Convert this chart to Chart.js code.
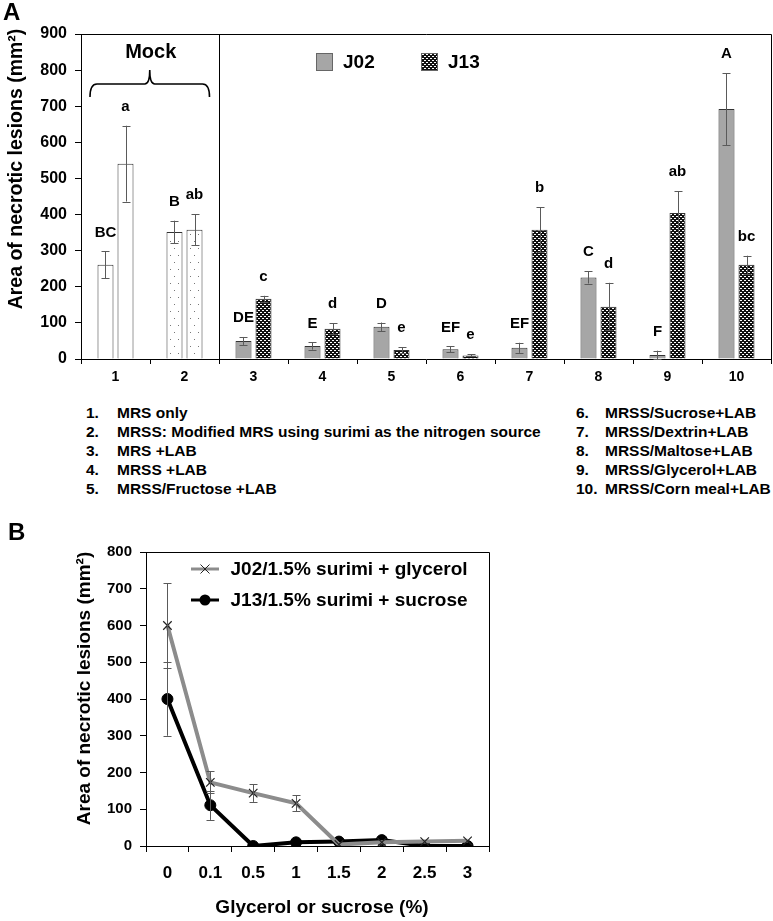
<!DOCTYPE html>
<html><head><meta charset="utf-8">
<script src="https://cdn.jsdelivr.net/npm/chart.js@4.4.1/dist/chart.umd.min.js"></script>
<style>
html,body{margin:0;padding:0;background:#fff;}
body{width:773px;height:921px;position:relative;overflow:hidden;font-family:"Liberation Sans",Arial,sans-serif;color:#000;}
#wa{position:absolute;left:0;top:0;width:773px;height:400px;}
#wb{position:absolute;left:0;top:520px;width:773px;height:401px;}
.panel{position:absolute;font-weight:bold;font-size:24px;line-height:24px;}
.note{position:absolute;font-family:"Liberation Sans",Arial,sans-serif;font-weight:bold;font-size:15.5px;line-height:19px;white-space:nowrap;}
</style></head>
<body>
<div id="wa"><canvas id="ca"></canvas></div>
<div id="notes"></div>
<div id="wb"><canvas id="cb"></canvas></div>
<div class="panel" style="left:3px;top:0px;">A</div>
<div class="panel" style="left:8px;top:520px;">B</div>
<script>
// ---------- Panel A data ----------
const categoriesA = ['1','2','3','4','5','6','7','8','9','10'];
const j02Mean = [261, 352, 50, 36, 89, 27, 31, 226, 11, 692];
const j02Err  = [37, 31, 11, 10, 12, 8, 14, 17, 12, 100];
const j13Mean = [541, 358, 167, 84, 25, 10, 358, 145, 404, 261];
const j13Err  = [105, 43, 8, 15, 8, 3, 62, 66, 61, 25];
const j02Letters = ['BC','B','DE','E','D','EF','EF','C','F','A'];
const j13Letters = ['a','ab','c','d','e','e','b','d','ab','bc'];
const seriesNamesA = ['J02','J13'];
const groupLabelA = 'Mock';
const yTitle = 'Area of necrotic lesions (mm\u00B2)';
const notesLeft = ['MRS only','MRSS: Modified MRS using surimi as the nitrogen source','MRS +LAB','MRSS +LAB','MRSS/Fructose +LAB'];
const notesRight = ['MRSS/Sucrose+LAB','MRSS/Dextrin+LAB','MRSS/Maltose+LAB','MRSS/Glycerol+LAB','MRSS/Corn meal+LAB'];

// ---------- Panel B data ----------
const categoriesB = ['0','0.1','0.5','1','1.5','2','2.5','3'];
const j02Glycerol    = [600, 173, 144, 116, 4, 10, 12, 14];
const j02GlycerolErr = [115, 30, 24, 22, 0, 0, 0, 0];
const j13Sucrose     = [400, 111, 0, 10, 12, 16, 0, 0];
const j13SucroseErr  = [100, 40, 0, 0, 0, 0, 0, 0];
const seriesNamesB = ['J02/1.5% surimi + glycerol','J13/1.5% surimi + sucrose'];
const xTitleB = 'Glycerol or sucrose (%)';

const FONT = '"Liberation Sans", Arial, sans-serif';
Chart.defaults.font.family = FONT;
Chart.defaults.color = '#000';
Chart.defaults.animation = false;

// treatment notes under panel A
(function(){
  const host = document.getElementById('notes');
  const top0 = 402.5, step = 19;
  function add(list, startNum, xNum, xTxt){
    list.forEach((t,i)=>{
      const y = top0 + i*step;
      const a = document.createElement('div'); a.className='note';
      a.style.left = xNum+'px'; a.style.top = y+'px'; a.textContent = (startNum+i)+'.';
      const b = document.createElement('div'); b.className='note';
      b.style.left = xTxt+'px'; b.style.top = y+'px'; b.textContent = t;
      host.appendChild(a); host.appendChild(b);
    });
  }
  add(notesLeft, 1, 86, 117);
  add(notesRight, 6, 576, 605);
})();

// patterns
function makePattern(w,h,bg,fg,dots){
  const c = document.createElement('canvas'); c.width=w; c.height=h;
  const g = c.getContext('2d'); g.fillStyle=bg; g.fillRect(0,0,w,h);
  g.fillStyle=fg; dots.forEach(d=>g.fillRect(d[0],d[1],d[2]||1,d[3]||1));
  return g.createPattern(c,'repeat');
}
const ctxA = document.getElementById('ca').getContext('2d');
const checker = makePattern(4,4,'#111','#fff',[[0,0,2,1],[2,2,2,1]]);
const sparse = makePattern(8,14,'#fff','#777',[[2,3],[6,10]]);
const greyFill = '#a6a6a6';

const fillsJ02 = categoriesA.map((c,i)=> i===0 ? '#fff' : (i===1 ? sparse : greyFill));
const fillsJ13 = categoriesA.map((c,i)=> i===0 ? '#fff' : (i===1 ? sparse : checker));

function drawErr(ctx, x, yTop, yBot, color){
  ctx.save(); ctx.strokeStyle=color; ctx.lineWidth=1;
  const xx = Math.round(x)+0.5;
  ctx.beginPath();
  ctx.moveTo(xx, yTop); ctx.lineTo(xx, yBot);
  ctx.moveTo(xx-4, Math.round(yTop)+0.5); ctx.lineTo(xx+4, Math.round(yTop)+0.5);
  ctx.moveTo(xx-4, Math.round(yBot)+0.5); ctx.lineTo(xx+4, Math.round(yBot)+0.5);
  ctx.stroke(); ctx.restore();
}

const errPlugin = {
  id:'errbars',
  afterDatasetsDraw(chart){
    const ctx = chart.ctx, ys = chart.scales.y;
    chart.data.datasets.forEach((ds,i)=>{
      if(!ds.errors) return;
      const meta = chart.getDatasetMeta(i);
      meta.data.forEach((el,j)=>{
        const e = ds.errors[j]; if(!e) return;
        const v = ds.data[j];
        drawErr(ctx, el.x, ys.getPixelForValue(v+e), ys.getPixelForValue(Math.max(0,v-e)), '#5a5a5a');
      });
    });
  }
};

function boxLines(chart){
  const {ctx, chartArea:a} = chart;
  ctx.save(); ctx.strokeStyle='#000'; ctx.lineWidth=1;
  ctx.beginPath();
  ctx.moveTo(a.left, Math.round(a.top)+0.5); ctx.lineTo(Math.round(a.right)+0.5, Math.round(a.top)+0.5);
  ctx.lineTo(Math.round(a.right)+0.5, a.bottom);
  ctx.stroke(); ctx.restore();
}
function rotText(ctx, txt, x, y, font){
  ctx.save(); ctx.setTransform(1,0,0,1,0,0); ctx.translate(x,y); ctx.rotate(-Math.PI/2);
  ctx.font=font; ctx.fillStyle='#000'; ctx.textAlign='center'; ctx.textBaseline='middle';
  ctx.fillText(txt,0,0); ctx.restore();
}

const decoA = {
  id:'decoA',
  afterDraw(chart){
    const {ctx, chartArea:a, scales:{x,y}} = chart;
    boxLines(chart);
    const xd = Math.round((x.getPixelForValue(1)+x.getPixelForValue(2))/2)+0.5;
    ctx.save(); ctx.strokeStyle='#000'; ctx.lineWidth=1;
    ctx.beginPath(); ctx.moveTo(xd,a.top); ctx.lineTo(xd,a.bottom); ctx.stroke();
    // brace over mock
    const x0 = a.left+9, x1 = xd-10, xm = (x0+x1)/2, yb = a.top+63, yh = yb-13, yp = yh-14;
    ctx.lineWidth=1.6;
    ctx.beginPath();
    ctx.moveTo(x0, yb);
    ctx.quadraticCurveTo(x0, yh, x0+7, yh);
    ctx.lineTo(xm-5, yh);
    ctx.quadraticCurveTo(xm, yh, xm, yp);
    ctx.quadraticCurveTo(xm, yh, xm+5, yh);
    ctx.lineTo(x1-7, yh);
    ctx.quadraticCurveTo(x1, yh, x1, yb);
    ctx.stroke();
    ctx.font='bold 20px '+FONT; ctx.fillStyle='#000'; ctx.textAlign='center'; ctx.textBaseline='middle';
    ctx.fillText(groupLabelA, xm+1, a.top+18);
    // legend
    const ly = a.top+19;
    const items = [[greyFill, a.left+235, seriesNamesA[0]],[checker, a.left+340, seriesNamesA[1]]];
    items.forEach(it=>{
      ctx.fillStyle=it[0]; ctx.fillRect(it[1], ly, 17, 18);
      ctx.strokeStyle='#666'; ctx.lineWidth=1; ctx.strokeRect(it[1]+0.5, ly+0.5, 16, 17);
      ctx.fillStyle='#000'; ctx.font='bold 19px '+FONT; ctx.textAlign='left'; ctx.textBaseline='middle';
      ctx.fillText(it[2], it[1]+27, ly+10);
    });
    // significance letters
    ctx.font='bold 15px '+FONT; ctx.textAlign='center'; ctx.textBaseline='middle'; ctx.fillStyle='#000';
    chart.data.datasets.forEach((ds,i)=>{
      const meta = chart.getDatasetMeta(i);
      meta.data.forEach((el,j)=>{
        const top = y.getPixelForValue(ds.data[j]+ds.errors[j]);
        ctx.fillText(ds.letters[j], el.x, top-19);
      });
    });
    ctx.restore();
    rotText(ctx, yTitle, 17, 169, 'bold 19.5px '+FONT);
  }
};

new Chart(ctxA, {
  type:'bar',
  data:{
    labels: categoriesA,
    datasets:[
      {label:seriesNamesA[0], data:j02Mean, errors:j02Err, letters:j02Letters,
       backgroundColor:fillsJ02, borderColor:'#333', borderWidth:1,
       categoryPercentage:0.58, barPercentage:0.8},
      {label:seriesNamesA[1], data:j13Mean, errors:j13Err, letters:j13Letters,
       backgroundColor:fillsJ13, borderColor:'#333', borderWidth:1,
       categoryPercentage:0.58, barPercentage:0.8}
    ]
  },
  options:{
    responsive:true, maintainAspectRatio:false,
    layout:{padding:{top:34,right:2,left:0,bottom:0}},
    plugins:{legend:{display:false}, tooltip:{enabled:false}},
    scales:{
      x:{
        grid:{drawOnChartArea:false, offset:true, tickLength:5, color:'#000'},
        border:{color:'#000', width:1},
        ticks:{font:{size:14, weight:'bold'}, padding:5, color:'#000', maxRotation:0},
        afterFit(s){ s.height = 41; }
      },
      y:{
        min:0, max:900,
        grid:{drawOnChartArea:false, tickLength:6, color:'#000'},
        border:{color:'#000', width:1},
        ticks:{stepSize:100, font:{size:16, weight:'bold'}, padding:8, color:'#000'},
        afterFit(s){ s.width = 81; }
      }
    }
  },
  plugins:[errPlugin, decoA]
});

// ---------- Panel B ----------
const decoB = {
  id:'decoB',
  afterDraw(chart){
    const {ctx, chartArea:a} = chart;
    boxLines(chart);
    const sets = chart.data.datasets;
    const rows = [[sets[0], a.top+17],[sets[1], a.top+48]];
    rows.forEach(r=>{
      const ds=r[0], yy=r[1], lx0=a.left+45, lx1=a.left+73, mx=(lx0+lx1)/2;
      ctx.save();
      ctx.strokeStyle=ds.borderColor; ctx.lineWidth=3; ctx.beginPath(); ctx.moveTo(lx0,yy); ctx.lineTo(lx1,yy); ctx.stroke();
      if(ds.pointStyle==='circle'){
        ctx.fillStyle='#000'; ctx.beginPath(); ctx.arc(mx,yy,5.5,0,Math.PI*2); ctx.fill();
      } else {
        ctx.strokeStyle='#222'; ctx.lineWidth=1; ctx.beginPath();
        ctx.moveTo(mx-4.5,yy-4.5); ctx.lineTo(mx+4.5,yy+4.5); ctx.moveTo(mx+4.5,yy-4.5); ctx.lineTo(mx-4.5,yy+4.5); ctx.stroke();
      }
      ctx.fillStyle='#000'; ctx.font='bold 19px '+FONT; ctx.textAlign='left'; ctx.textBaseline='middle';
      ctx.fillText(ds.label, a.left+84.5, yy+1);
      ctx.restore();
    });
    rotText(ctx, yTitle, 84.5, 168.5, 'bold 19px '+FONT);
    ctx.save(); ctx.font='bold 19px '+FONT; ctx.fillStyle='#000'; ctx.textAlign='center'; ctx.textBaseline='middle';
    ctx.fillText(xTitleB, 322, 388); ctx.restore();
  }
};

new Chart(document.getElementById('cb').getContext('2d'), {
  type:'line',
  data:{
    labels: categoriesB,
    datasets:[
      {label:seriesNamesB[0], data:j02Glycerol, errors:j02GlycerolErr,
       borderColor:'#8c8c8c', borderWidth:4, pointStyle:'crossRot', pointRadius:6,
       pointBorderColor:'#222', pointBorderWidth:1.2, pointBackgroundColor:'#222', tension:0},
      {label:seriesNamesB[1], data:j13Sucrose, errors:j13SucroseErr,
       borderColor:'#000', borderWidth:4, pointStyle:'circle', pointRadius:5.5,
       pointBorderColor:'#000', pointBorderWidth:1, pointBackgroundColor:'#000', tension:0}
    ]
  },
  options:{
    responsive:true, maintainAspectRatio:false,
    layout:{padding:{top:32,right:284,left:0,bottom:0}},
    plugins:{legend:{display:false}, tooltip:{enabled:false}},
    scales:{
      x:{
        offset:true,
        grid:{drawOnChartArea:false, offset:true, tickLength:6, color:'#000'},
        border:{color:'#000', width:1},
        ticks:{font:{size:17, weight:'bold'}, padding:11, color:'#000', maxRotation:0},
        afterFit(s){ s.height = 75; }
      },
      y:{
        min:0, max:800,
        grid:{drawOnChartArea:false, tickLength:6, color:'#000'},
        border:{color:'#000', width:1},
        ticks:{stepSize:100, font:{size:15, weight:'bold'}, padding:8, color:'#000'},
        afterFit(s){ s.width = 146; }
      }
    }
  },
  plugins:[errPlugin, decoB]
});
</script>
</body></html>
